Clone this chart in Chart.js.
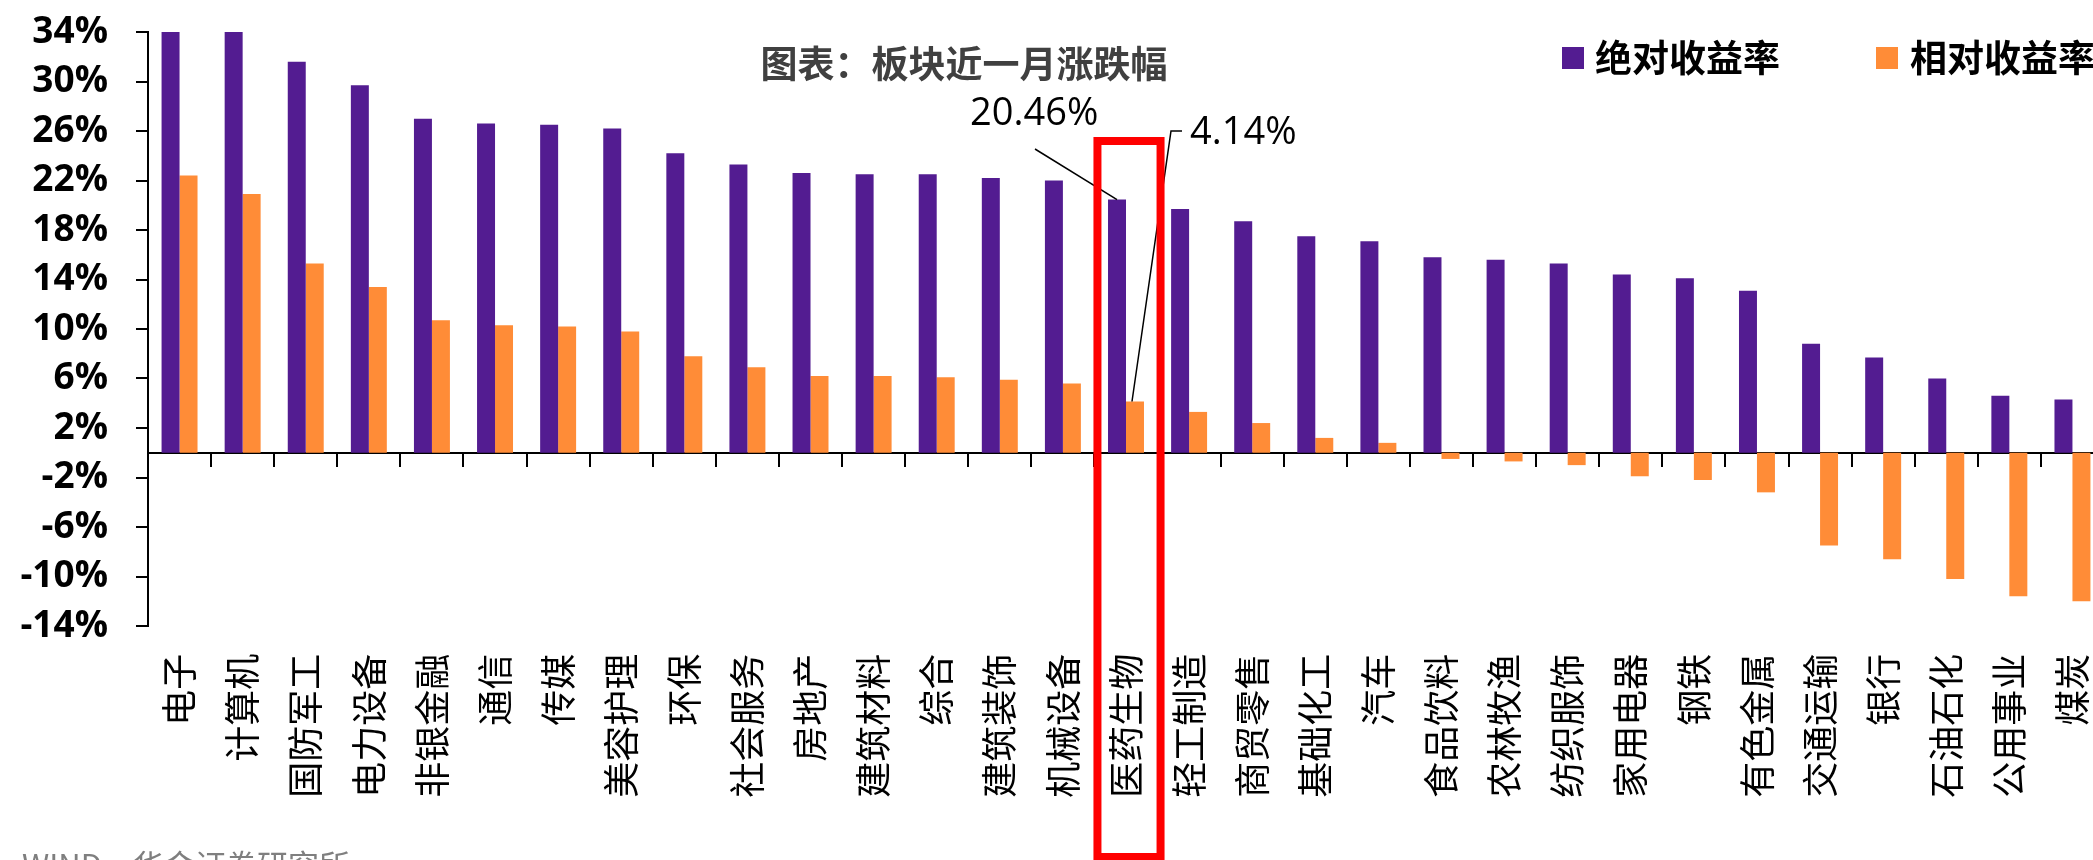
<!DOCTYPE html>
<html>
<head>
<meta charset="utf-8">
<script src="https://cdn.jsdelivr.net/npm/chart.js@4.4.0/dist/chart.umd.min.js"></script>
<style>
  html, body { margin: 0; padding: 0; background: #fff; overflow: hidden; }
  #wrap { width: 2106px; height: 860px; }
</style>
</head>
<body>
<div id="wrap"><canvas id="chart" width="2106" height="860"></canvas></div>
<script>
// 板块近一月涨跌幅
const sectors = ['电子', '计算机', '国防军工', '电力设备', '非银金融', '通信', '传媒', '美容护理', '环保', '社会服务',
  '房地产', '建筑材料', '综合', '建筑装饰', '机械设备', '医药生物', '轻工制造', '商贸零售', '基础化工', '汽车',
  '食品饮料', '农林牧渔', '纺织服饰', '家用电器', '钢铁', '有色金属', '交通运输', '银行', '石油石化', '公用事业', '煤炭'];
const absReturn = [38.7, 37.3, 31.6, 29.7, 27.0, 26.6, 26.5, 26.2, 24.2, 23.3,
  22.6, 22.5, 22.5, 22.2, 22.0, 20.46, 19.7, 18.7, 17.5, 17.1,
  15.8, 15.6, 15.3, 14.4, 14.1, 13.1, 8.8, 7.7, 6.0, 4.6, 4.3];
const relReturn = [22.4, 20.9, 15.3, 13.4, 10.7, 10.3, 10.2, 9.8, 7.8, 6.9,
  6.2, 6.2, 6.1, 5.9, 5.6, 4.14, 3.3, 2.4, 1.2, 0.8,
  -0.5, -0.7, -1.0, -1.9, -2.2, -3.2, -7.5, -8.6, -10.2, -11.6, -12.0];
const seriesNames = ['绝对收益率', '相对收益率'];
const seriesColors = ['#531C91', '#FF8C37'];
const yMin = -14, yMax = 34, yStep = 4;
const titleText = '图表：板块近一月涨跌幅';
const sourceText = 'WIND，华金证券研究所';
const highlightIndex = 15; // 医药生物

const CJK = '"Noto Sans CJK SC", "Noto Sans", sans-serif';
const LATIN = '"Open Sans", "Noto Sans", sans-serif';

// title, legend, callouts, red box, source
const overlay = {
  id: 'overlay',
  afterDraw(chart) {
    const ctx = chart.ctx;
    const xs = chart.scales.x;
    const absBar = chart.getDatasetMeta(0).data[highlightIndex];
    const relBar = chart.getDatasetMeta(1).data[highlightIndex];
    ctx.save();

    ctx.font = 'bold 37px ' + CJK;
    ctx.fillStyle = '#404040';
    ctx.textAlign = 'center';
    ctx.textBaseline = 'middle';
    ctx.fillText(titleText, 964, 64);

    // legend
    ctx.font = 'bold 37px ' + CJK;
    ctx.textAlign = 'left';
    ctx.fillStyle = seriesColors[0];
    ctx.fillRect(1562, 47, 22, 22);
    ctx.fillStyle = seriesColors[1];
    ctx.fillRect(1876, 47, 22, 22);
    ctx.fillStyle = '#000';
    ctx.fillText(seriesNames[0], 1595, 58);
    ctx.fillText(seriesNames[1], 1910, 58);

    // callouts
    ctx.font = '38px ' + LATIN;
    ctx.fillStyle = '#000';
    ctx.fillText(absReturn[highlightIndex].toFixed(2) + '%', 970, 114);
    ctx.fillText(relReturn[highlightIndex].toFixed(2) + '%', 1190, 133);
    ctx.strokeStyle = '#000';
    ctx.lineWidth = 1.5;
    ctx.beginPath();
    ctx.moveTo(1035, 149);
    ctx.lineTo(absBar.x, absBar.y);
    ctx.stroke();
    ctx.beginPath();
    ctx.moveTo(1182, 131);
    ctx.lineTo(1171, 131);
    ctx.lineTo(relBar.x - 3, relBar.y);
    ctx.stroke();

    // highlight box
    const half = (xs.getPixelForValue(1) - xs.getPixelForValue(0)) / 2;
    const cx = xs.getPixelForValue(highlightIndex);
    ctx.strokeStyle = '#FF0000';
    ctx.lineWidth = 8;
    ctx.strokeRect(cx - half + 3, 141, half * 2, 716);

    // source
    ctx.font = '31px ' + CJK;
    ctx.fillStyle = '#7f7f7f';
    ctx.textBaseline = 'top';
    ctx.fillText(sourceText, 22, 850);
    ctx.restore();
  }
};

new Chart(document.getElementById('chart'), {
  type: 'bar',
  data: {
    labels: sectors,
    datasets: [
      { label: seriesNames[0], data: absReturn, backgroundColor: seriesColors[0], clip: 0 },
      { label: seriesNames[1], data: relReturn, backgroundColor: seriesColors[1], clip: 0 }
    ]
  },
  options: {
    responsive: false,
    animation: false,
    devicePixelRatio: 1,
    layout: { padding: { top: 32, bottom: 234, left: 0, right: 2 } },
    datasets: { bar: { categoryPercentage: 0.57, barPercentage: 1 } },
    plugins: { legend: { display: false }, title: { display: false }, tooltip: { enabled: false } },
    scales: {
      x: {
        position: { y: 0 },
        offset: true,
        grid: { offset: true, drawOnChartArea: false, tickLength: 13, color: '#000', lineWidth: 2 },
        border: { display: true, color: '#000', width: 2 },
        ticks: {
          autoSkip: false, minRotation: 90, maxRotation: 90, padding: 188, color: '#000',
          font: { size: 36, family: CJK }
        },
        afterFit(s) { s.paddingLeft = 0; s.paddingRight = 0; s.paddingTop = 0; s.paddingBottom = 0; }
      },
      y: {
        min: yMin,
        max: yMax,
        grid: { drawOnChartArea: false, tickLength: 12, color: '#000', lineWidth: 2 },
        border: { color: '#000', width: 2 },
        ticks: {
          stepSize: yStep, padding: 28, color: '#000',
          font: { size: 37, weight: 'bold', family: LATIN },
          callback: v => v + '%'
        },
        afterFit(s) { s.width = 148; s.paddingTop = 0; s.paddingBottom = 0; }
      }
    }
  },
  plugins: [overlay]
});
</script>
</body>
</html>
